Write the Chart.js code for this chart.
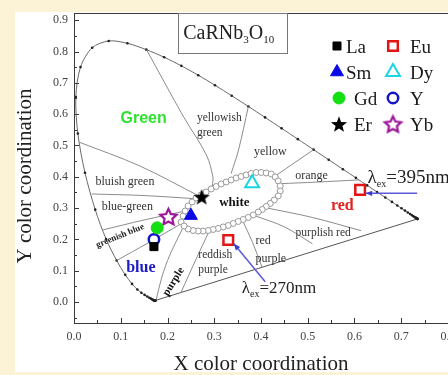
<!DOCTYPE html>
<html>
<head>
<meta charset="utf-8">
<script src="https://cdn.jsdelivr.net/npm/chart.js@4.4.1/dist/chart.umd.min.js"></script>
<style>
  html, body { margin: 0; padding: 0; background: #fcf2d6; overflow: hidden; }
  canvas { display: block; }
</style>
</head>
<body>
<canvas id="cieChart" width="448" height="375"></canvas>
<script>
// axis ticks
const xTicks = [0.0, 0.1, 0.2, 0.3, 0.4, 0.5, 0.6, 0.7, 0.8];
const yTicks = [0.0, 0.1, 0.2, 0.3, 0.4, 0.5, 0.6, 0.7, 0.8, 0.9];

// CIE 1931 spectral locus, 380..700 nm every 5 nm
const locusX = [0.1741, 0.1740, 0.1738, 0.1736, 0.1733, 0.1730, 0.1726, 0.1721, 0.1714, 0.1703,
    0.1689, 0.1669, 0.1644, 0.1611, 0.1566, 0.1510, 0.1440, 0.1355, 0.1241, 0.1096,
    0.0913, 0.0687, 0.0454, 0.0235, 0.0082, 0.0039, 0.0139, 0.0389, 0.0743, 0.1142,
    0.1547, 0.1929, 0.2296, 0.2658, 0.3016, 0.3373, 0.3731, 0.4087, 0.4441, 0.4788,
    0.5125, 0.5448, 0.5752, 0.6029, 0.6270, 0.6482, 0.6658, 0.6801, 0.6915, 0.7006,
    0.7079, 0.7140, 0.7190, 0.7230, 0.7260, 0.7283, 0.7300, 0.7311, 0.7320, 0.7327,
    0.7334, 0.7340, 0.7344, 0.7346, 0.7347];
const locusY = [0.0050, 0.0050, 0.0049, 0.0049, 0.0048, 0.0048, 0.0048, 0.0048, 0.0051, 0.0058,
    0.0069, 0.0086, 0.0109, 0.0138, 0.0177, 0.0227, 0.0297, 0.0399, 0.0578, 0.0868,
    0.1327, 0.2007, 0.2950, 0.4127, 0.5384, 0.6548, 0.7502, 0.8120, 0.8338, 0.8262,
    0.8059, 0.7816, 0.7543, 0.7243, 0.6923, 0.6589, 0.6245, 0.5896, 0.5547, 0.5202,
    0.4866, 0.4544, 0.4242, 0.3965, 0.3725, 0.3514, 0.3340, 0.3197, 0.3083, 0.2993,
    0.2920, 0.2859, 0.2809, 0.2770, 0.2740, 0.2717, 0.2700, 0.2689, 0.2680, 0.2673,
    0.2666, 0.2660, 0.2656, 0.2654, 0.2653];

// ring of small circles around the white area
const whiteX = [0.2291, 0.2334, 0.2377, 0.2441, 0.2527, 0.2612, 0.2719, 0.2827, 0.2934, 0.3041,
    0.3148, 0.3255, 0.3362, 0.3469, 0.3576, 0.3683, 0.3790, 0.3897, 0.4004, 0.4111,
    0.4218, 0.4304, 0.4368, 0.4411, 0.4411, 0.4368, 0.4283, 0.4197, 0.4111, 0.4026,
    0.3940, 0.3833, 0.3726, 0.3619, 0.3512, 0.3405, 0.3298, 0.3191, 0.3084, 0.2976,
    0.2869, 0.2762, 0.2655, 0.2548, 0.2441, 0.2355];
const whiteY = [0.2556, 0.2748, 0.2907, 0.3067, 0.3195, 0.3323, 0.3419, 0.3514, 0.3610, 0.3690,
    0.3770, 0.3834, 0.3898, 0.3962, 0.4010, 0.4058, 0.4105, 0.4137, 0.4137, 0.4121,
    0.4089, 0.3994, 0.3866, 0.3706, 0.3546, 0.3387, 0.3259, 0.3147, 0.3051, 0.2955,
    0.2875, 0.2780, 0.2700, 0.2636, 0.2572, 0.2508, 0.2444, 0.2396, 0.2348, 0.2316,
    0.2284, 0.2268, 0.2268, 0.2284, 0.2332, 0.2428];

// colour region borders [x, y]
const borderGreen = [[0.155, 0.806], [0.235, 0.59], [0.283, 0.47], [0.297, 0.40], [0.296, 0.37]];
const borderYellow = [[0.373, 0.6245], [0.352, 0.486], [0.336, 0.410]];
const borderOrange = [[0.432, 0.404], [0.5125, 0.4866]];
const borderRed = [[0.441, 0.378], [0.520, 0.383], [0.609, 0.390]];
const borderPurplishRed = [[0.414, 0.300], [0.510, 0.270], [0.614, 0.228]];
const borderRedPurple = [[0.386, 0.276], [0.450, 0.240], [0.510, 0.186]];
const borderReddishPurple = [[0.360, 0.262], [0.382, 0.190], [0.402, 0.112]];
const borderPurple = [[0.290, 0.229], [0.262, 0.140], [0.229, 0.031]];
const borderBlue = [[0.234, 0.240], [0.205, 0.150], [0.188, 0.080], [0.176, 0.008]];
const borderGreenishBlue = [[0.0913, 0.1327], [0.160, 0.190], [0.229, 0.250]];
const borderBlueGreen = [[0.061, 0.230], [0.150, 0.262], [0.236, 0.290]];
const borderBluishGreen = [[0.038, 0.345], [0.150, 0.340], [0.258, 0.330]];
const borderGreenSide = [[0.012, 0.510], [0.140, 0.435], [0.268, 0.338]];
const regionBorders = [borderGreen, borderYellow, borderOrange, borderRed, borderPurplishRed,
    borderRedPurple, borderReddishPurple, borderPurple, borderBlue, borderGreenishBlue,
    borderBlueGreen, borderBluishGreen, borderGreenSide];

// samples CaRNb3O10:R
const ions = ['La', 'Eu', 'Sm', 'Dy', 'Gd', 'Y', 'Er', 'Yb'];
const ionX = [[0.171], [0.330, 0.612], [0.250], [0.381], [0.178], [0.171], [0.273], [0.202]];
const ionY = [[0.177], [0.198, 0.358], [0.276], [0.379], [0.237], [0.200], [0.336], [0.273]];

// region names
const regionNames = ['Green', 'yellowish', 'green', 'yellow', 'orange', 'red', 'purplish red', 'red', 'purple',
    'reddish', 'purple', 'purple', 'blue', 'greenish blue', 'blue-green', 'bluish green', 'white'];
const regionX = [0.149, 0.263, 0.263, 0.420, 0.508, 0.574, 0.533, 0.388, 0.388,
    0.266, 0.266, 0.213, 0.143, 0.0985, 0.114, 0.109, 0.343];
const regionY = [0.586, 0.588, 0.540, 0.479, 0.404, 0.307, 0.220, 0.195, 0.137,
    0.150, 0.102, 0.065, 0.109, 0.211, 0.304, 0.384, 0.316];

// excitation arrows: [from, to]
const arrow395 = [[0.734, 0.347], [0.624, 0.347]];
const arrow270 = [[0.409, 0.065], [0.342, 0.186]];

const serif = "'Liberation Serif', 'Times New Roman', 'DejaVu Serif', serif";
const sans = "'Liberation Sans', Arial, 'DejaVu Sans', sans-serif";

function makeStar(r, fill, stroke, lw, inner) {
    const c = document.createElement('canvas');
    const s = Math.ceil(2 * r + lw + 3);
    c.width = s; c.height = s;
    const g = c.getContext('2d');
    g.translate(s / 2, s / 2 + r * 0.1);
    g.beginPath();
    for (let i = 0; i < 10; i++) {
        const a = -Math.PI / 2 + i * Math.PI / 5;
        const rr = i % 2 ? r * inner : r;
        g.lineTo(Math.cos(a) * rr, Math.sin(a) * rr);
    }
    g.closePath();
    g.fillStyle = fill;
    g.fill();
    if (stroke) {
        g.lineWidth = lw;
        g.strokeStyle = stroke;
        g.stroke();
    }
    return c;
}

const markerStyles = {
    La: { shape: 'rect', r: 5.7, fill: '#000000', stroke: '#000000', lw: 1 },
    Eu: { shape: 'rect', r: 6.8, fill: '#ffffff', stroke: '#e31414', lw: 2.5 },
    Sm: { shape: 'triangle', r: 7.5, fill: '#0a0ae6', stroke: '#0a0ae6', lw: 1 },
    Dy: { shape: 'triangle', r: 8, fill: '#ffffff', stroke: '#17d6e2', lw: 2 },
    Gd: { shape: 'circle', r: 6, fill: '#12e012', stroke: '#12e012', lw: 1 },
    Y: { shape: 'circle', r: 5.2, fill: '#ffffff', stroke: '#1414c8', lw: 2.5 },
    Er: { img: makeStar(8.5, '#000000', null, 0, 0.42) },
    Yb: { img: makeStar(8.5, '#ffffff', '#9b1496', 2.2, 0.48) }
};

function drawMarker(ctx, st, x, y) {
    ctx.save();
    if (st.img) {
        ctx.drawImage(st.img, x - st.img.width / 2, y - st.img.height / 2);
        ctx.restore();
        return;
    }
    ctx.fillStyle = st.fill;
    ctx.strokeStyle = st.stroke;
    ctx.lineWidth = st.lw;
    ctx.beginPath();
    if (st.shape === 'rect') {
        const s = st.r * Math.SQRT1_2;
        ctx.rect(x - s, y - s, 2 * s, 2 * s);
    } else if (st.shape === 'triangle') {
        for (let i = 0; i < 3; i++) {
            const a = i * 2 * Math.PI / 3;
            ctx.lineTo(x + Math.sin(a) * st.r, y - Math.cos(a) * st.r);
        }
        ctx.closePath();
    } else {
        ctx.arc(x, y, st.r, 0, 2 * Math.PI);
    }
    ctx.fill();
    ctx.stroke();
    ctx.restore();
}

// draws pieces of text one after another (for subscripts)
function drawRuns(ctx, runs, x, y) {
    let cx = x;
    runs.forEach(run => {
        ctx.font = run.font;
        ctx.fillText(run.t, cx, y + (run.dy || 0));
        cx += ctx.measureText(run.t).width;
    });
}

function drawArrow(ctx, xs, ys, pts) {
    const x0 = xs.getPixelForValue(pts[0][0]), y0 = ys.getPixelForValue(pts[0][1]);
    const x1 = xs.getPixelForValue(pts[1][0]), y1 = ys.getPixelForValue(pts[1][1]);
    const ang = Math.atan2(y1 - y0, x1 - x0);
    ctx.save();
    ctx.strokeStyle = '#5a5ad8';
    ctx.fillStyle = '#3a3ad0';
    ctx.lineWidth = 1.5;
    ctx.beginPath();
    ctx.moveTo(x0, y0);
    ctx.lineTo(x1, y1);
    ctx.stroke();
    ctx.beginPath();
    ctx.moveTo(x1, y1);
    ctx.lineTo(x1 - 7 * Math.cos(ang - 0.4), y1 - 7 * Math.sin(ang - 0.4));
    ctx.lineTo(x1 - 7 * Math.cos(ang + 0.4), y1 - 7 * Math.sin(ang + 0.4));
    ctx.closePath();
    ctx.fill();
    ctx.restore();
}

const regionFonts = [
    'bold 16px ' + sans, '11.5px ' + serif, '11.5px ' + serif, '12px ' + serif, '12px ' + serif,
    'bold 16px ' + serif, '11.5px ' + serif, '12px ' + serif, '12px ' + serif,
    '11.5px ' + serif, '11.5px ' + serif, 'bold 11px ' + serif, 'bold 16px ' + serif,
    'bold 9px ' + serif, '12px ' + serif, '12px ' + serif, 'bold 13px ' + serif];
const regionColors = ['#2fe32f', '#333', '#333', '#333', '#333', '#e32222', '#333', '#333', '#333',
    '#333', '#333', '#111', '#1c1cc8', '#222', '#333', '#333', '#111'];
const regionAlign = ['center', 'left', 'left', 'center', 'center', 'center', 'center', 'left', 'left',
    'left', 'left', 'center', 'center', 'center', 'center', 'center', 'center'];
const regionRotation = [0, 0, 0, 0, 0, 0, 0, 0, 0, 0, 0, -58, 0, -22, 0, 0, 0];

const decorPlugin = {
    id: 'decor',
    beforeDraw(chart) {
        const ctx = chart.ctx;
        ctx.save();
        ctx.fillStyle = '#ffffff';
        ctx.fillRect(15, 12, chart.width - 15, 360);
        ctx.restore();
    },
    afterDatasetsDraw(chart) {
        const ctx = chart.ctx;
        const xs = chart.scales.x, ys = chart.scales.y;
        ctx.save();
        ctx.textBaseline = 'middle';
        regionNames.forEach((name, i) => {
            ctx.save();
            ctx.translate(xs.getPixelForValue(regionX[i]), ys.getPixelForValue(regionY[i]));
            ctx.rotate(regionRotation[i] * Math.PI / 180);
            ctx.font = regionFonts[i];
            ctx.fillStyle = regionColors[i];
            ctx.textAlign = regionAlign[i];
            ctx.fillText(name, 0, 0);
            ctx.restore();
        });
        ctx.restore();

        drawArrow(ctx, xs, ys, arrow395);
        drawArrow(ctx, xs, ys, arrow270);

        ctx.save();
        ctx.fillStyle = '#222';
        ctx.textAlign = 'left';
        ctx.textBaseline = 'alphabetic';
        drawRuns(ctx, [
            { t: 'λ', font: '19px ' + serif },
            { t: 'ex', font: '10px ' + serif, dy: 4 },
            { t: '=395nm', font: '19px ' + serif }
        ], xs.getPixelForValue(0.628), ys.getPixelForValue(0.380));
        drawRuns(ctx, [
            { t: 'λ', font: '17px ' + serif },
            { t: 'ex', font: '10px ' + serif, dy: 4 },
            { t: '=270nm', font: '17px ' + serif }
        ], xs.getPixelForValue(0.359), ys.getPixelForValue(0.029));
        ctx.restore();
    },
    afterDraw(chart) {
        const ctx = chart.ctx;
        const a = chart.chartArea;
        const xs = chart.scales.x, ys = chart.scales.y;
        ctx.save();

        // frame
        ctx.strokeStyle = '#3a3a3a';
        ctx.lineWidth = 1;
        ctx.strokeRect(a.left + 0.5, a.top + 0.5, a.right - a.left + 10, a.bottom - a.top);

        // inward ticks
        ctx.beginPath();
        xTicks.forEach((v, i) => {
            const px = Math.round(xs.getPixelForValue(v)) + 0.5;
            ctx.moveTo(px, a.bottom); ctx.lineTo(px, a.bottom - 5);
            if (i < xTicks.length - 1) {
                const pm = Math.round(xs.getPixelForValue((v + xTicks[i + 1]) / 2)) + 0.5;
                ctx.moveTo(pm, a.bottom); ctx.lineTo(pm, a.bottom - 3);
            }
        });
        yTicks.forEach((v, i) => {
            const py = Math.round(ys.getPixelForValue(v)) + 0.5;
            ctx.moveTo(a.left, py); ctx.lineTo(a.left + 5, py);
            const below = i === 0 ? v - 0.05 : (v + yTicks[i - 1]) / 2;
            const pm = Math.round(ys.getPixelForValue(below)) + 0.5;
            ctx.moveTo(a.left, pm); ctx.lineTo(a.left + 3, pm);
        });
        ctx.stroke();

        // compound title box
        const bx0 = xs.getPixelForValue(0.223), bx1 = xs.getPixelForValue(0.456);
        const by1 = ys.getPixelForValue(0.796);
        ctx.strokeStyle = '#777';
        ctx.strokeRect(Math.round(bx0) + 0.5, a.top + 0.5, Math.round(bx1 - bx0), Math.round(by1 - a.top));
        ctx.fillStyle = '#222';
        ctx.textBaseline = 'alphabetic';
        ctx.textAlign = 'left';
        drawRuns(ctx, [
            { t: 'CaRNb', font: '20px ' + serif },
            { t: '3', font: '11px ' + serif, dy: 4 },
            { t: 'O', font: '20px ' + serif },
            { t: '10', font: '11px ' + serif, dy: 4 }
        ], bx0 + 5, a.top + 26);

        // legend, two columns
        const legendCols = [[337, 346], [393, 410]];
        const legendRows = [46, 72, 98, 124];
        const textShift = { Gd: 8, Er: 8 };
        ctx.font = '19px ' + serif;
        ctx.fillStyle = '#1a1a1a';
        ions.forEach((name, i) => {
            const col = legendCols[i % 2];
            const row = legendRows[Math.floor(i / 2)];
            const mx = col[0] + (textShift[name] ? 2 : 0);
            drawMarker(ctx, markerStyles[name], mx, row);
            ctx.fillText(name, col[1] + (textShift[name] || 0), row + 7);
        });

        // axis titles
        ctx.font = '21px ' + serif;
        ctx.fillStyle = '#222';
        ctx.textAlign = 'center';
        ctx.fillText('X color coordination', (a.left + a.right) / 2, a.bottom + 47);
        ctx.save();
        ctx.translate(a.left - 49, (a.top + a.bottom) / 2 + 8);
        ctx.rotate(-Math.PI / 2);
        ctx.textBaseline = 'middle';
        ctx.fillText('Y color coordination', 0, 0);
        ctx.restore();

        ctx.restore();
    }
};

const toPoints = (xs, ys) => xs.map((x, i) => ({ x: x, y: ys[i] }));

const datasets = [];
ions.forEach((name, i) => {
    const st = markerStyles[name];
    datasets.push({
        label: name,
        data: toPoints(ionX[i], ionY[i]),
        pointStyle: st.img ? st.img : st.shape,
        pointRadius: st.r || 8,
        backgroundColor: st.fill || '#000',
        borderColor: st.stroke || '#000',
        borderWidth: st.lw || 0,
        showLine: false,
        order: 0
    });
});
datasets.push({
    label: 'white',
    data: toPoints(whiteX, whiteY),
    pointStyle: 'circle',
    pointRadius: 3,
    backgroundColor: '#ffffff',
    borderColor: '#9a9a9a',
    borderWidth: 1,
    showLine: false,
    order: 1
});
regionBorders.forEach((b, i) => {
    datasets.push({
        label: 'border' + i,
        data: b.map(p => ({ x: p[0], y: p[1] })),
        showLine: true,
        pointRadius: 0,
        borderColor: '#8c8c8c',
        borderWidth: 1,
        tension: 0.35,
        order: 2
    });
});
datasets.push({
    label: 'locus',
    data: toPoints(locusX, locusY),
    showLine: true,
    pointRadius: 1.3,
    pointBackgroundColor: '#222',
    pointBorderWidth: 0,
    borderColor: '#6a6a6a',
    borderWidth: 1,
    tension: 0.3,
    order: 3
});
datasets.push({
    label: 'purple line',
    data: [
        { x: locusX[locusX.length - 1], y: locusY[locusY.length - 1] },
        { x: locusX[0], y: locusY[0] }
    ],
    showLine: true,
    pointRadius: 0,
    borderColor: '#555',
    borderWidth: 1,
    order: 3
});

Chart.defaults.font.family = serif;

new Chart(document.getElementById('cieChart'), {
    type: 'scatter',
    data: { datasets: datasets },
    options: {
        responsive: false,
        animation: false,
        layout: { autoPadding: false, padding: { top: 13, left: 0, right: 0, bottom: 0 } },
        plugins: {
            legend: { display: false },
            tooltip: { enabled: false }
        },
        scales: {
            x: {
                type: 'linear',
                min: 0,
                max: 0.8,
                grid: { display: false, drawTicks: false },
                border: { display: false },
                afterBuildTicks: s => { s.ticks = xTicks.map(v => ({ value: v })); },
                afterFit: s => { s.height = 52; s.paddingLeft = 0; s.paddingRight = 0; },
                ticks: {
                    autoSkip: false,
                    maxRotation: 0,
                    padding: 6.5,
                    color: '#444',
                    font: { size: 12 },
                    callback: v => v.toFixed(1)
                }
            },
            y: {
                type: 'linear',
                min: -0.067,
                max: 0.923,
                grid: { display: false, drawTicks: false },
                border: { display: false },
                afterBuildTicks: s => { s.ticks = yTicks.map(v => ({ value: v })); },
                afterFit: s => { s.width = 74; s.paddingTop = 0; s.paddingBottom = 0; },
                ticks: {
                    autoSkip: false,
                    padding: 6,
                    color: '#444',
                    font: { size: 12 },
                    callback: v => v.toFixed(1)
                }
            }
        }
    },
    plugins: [decorPlugin]
});
</script>
</body>
</html>
